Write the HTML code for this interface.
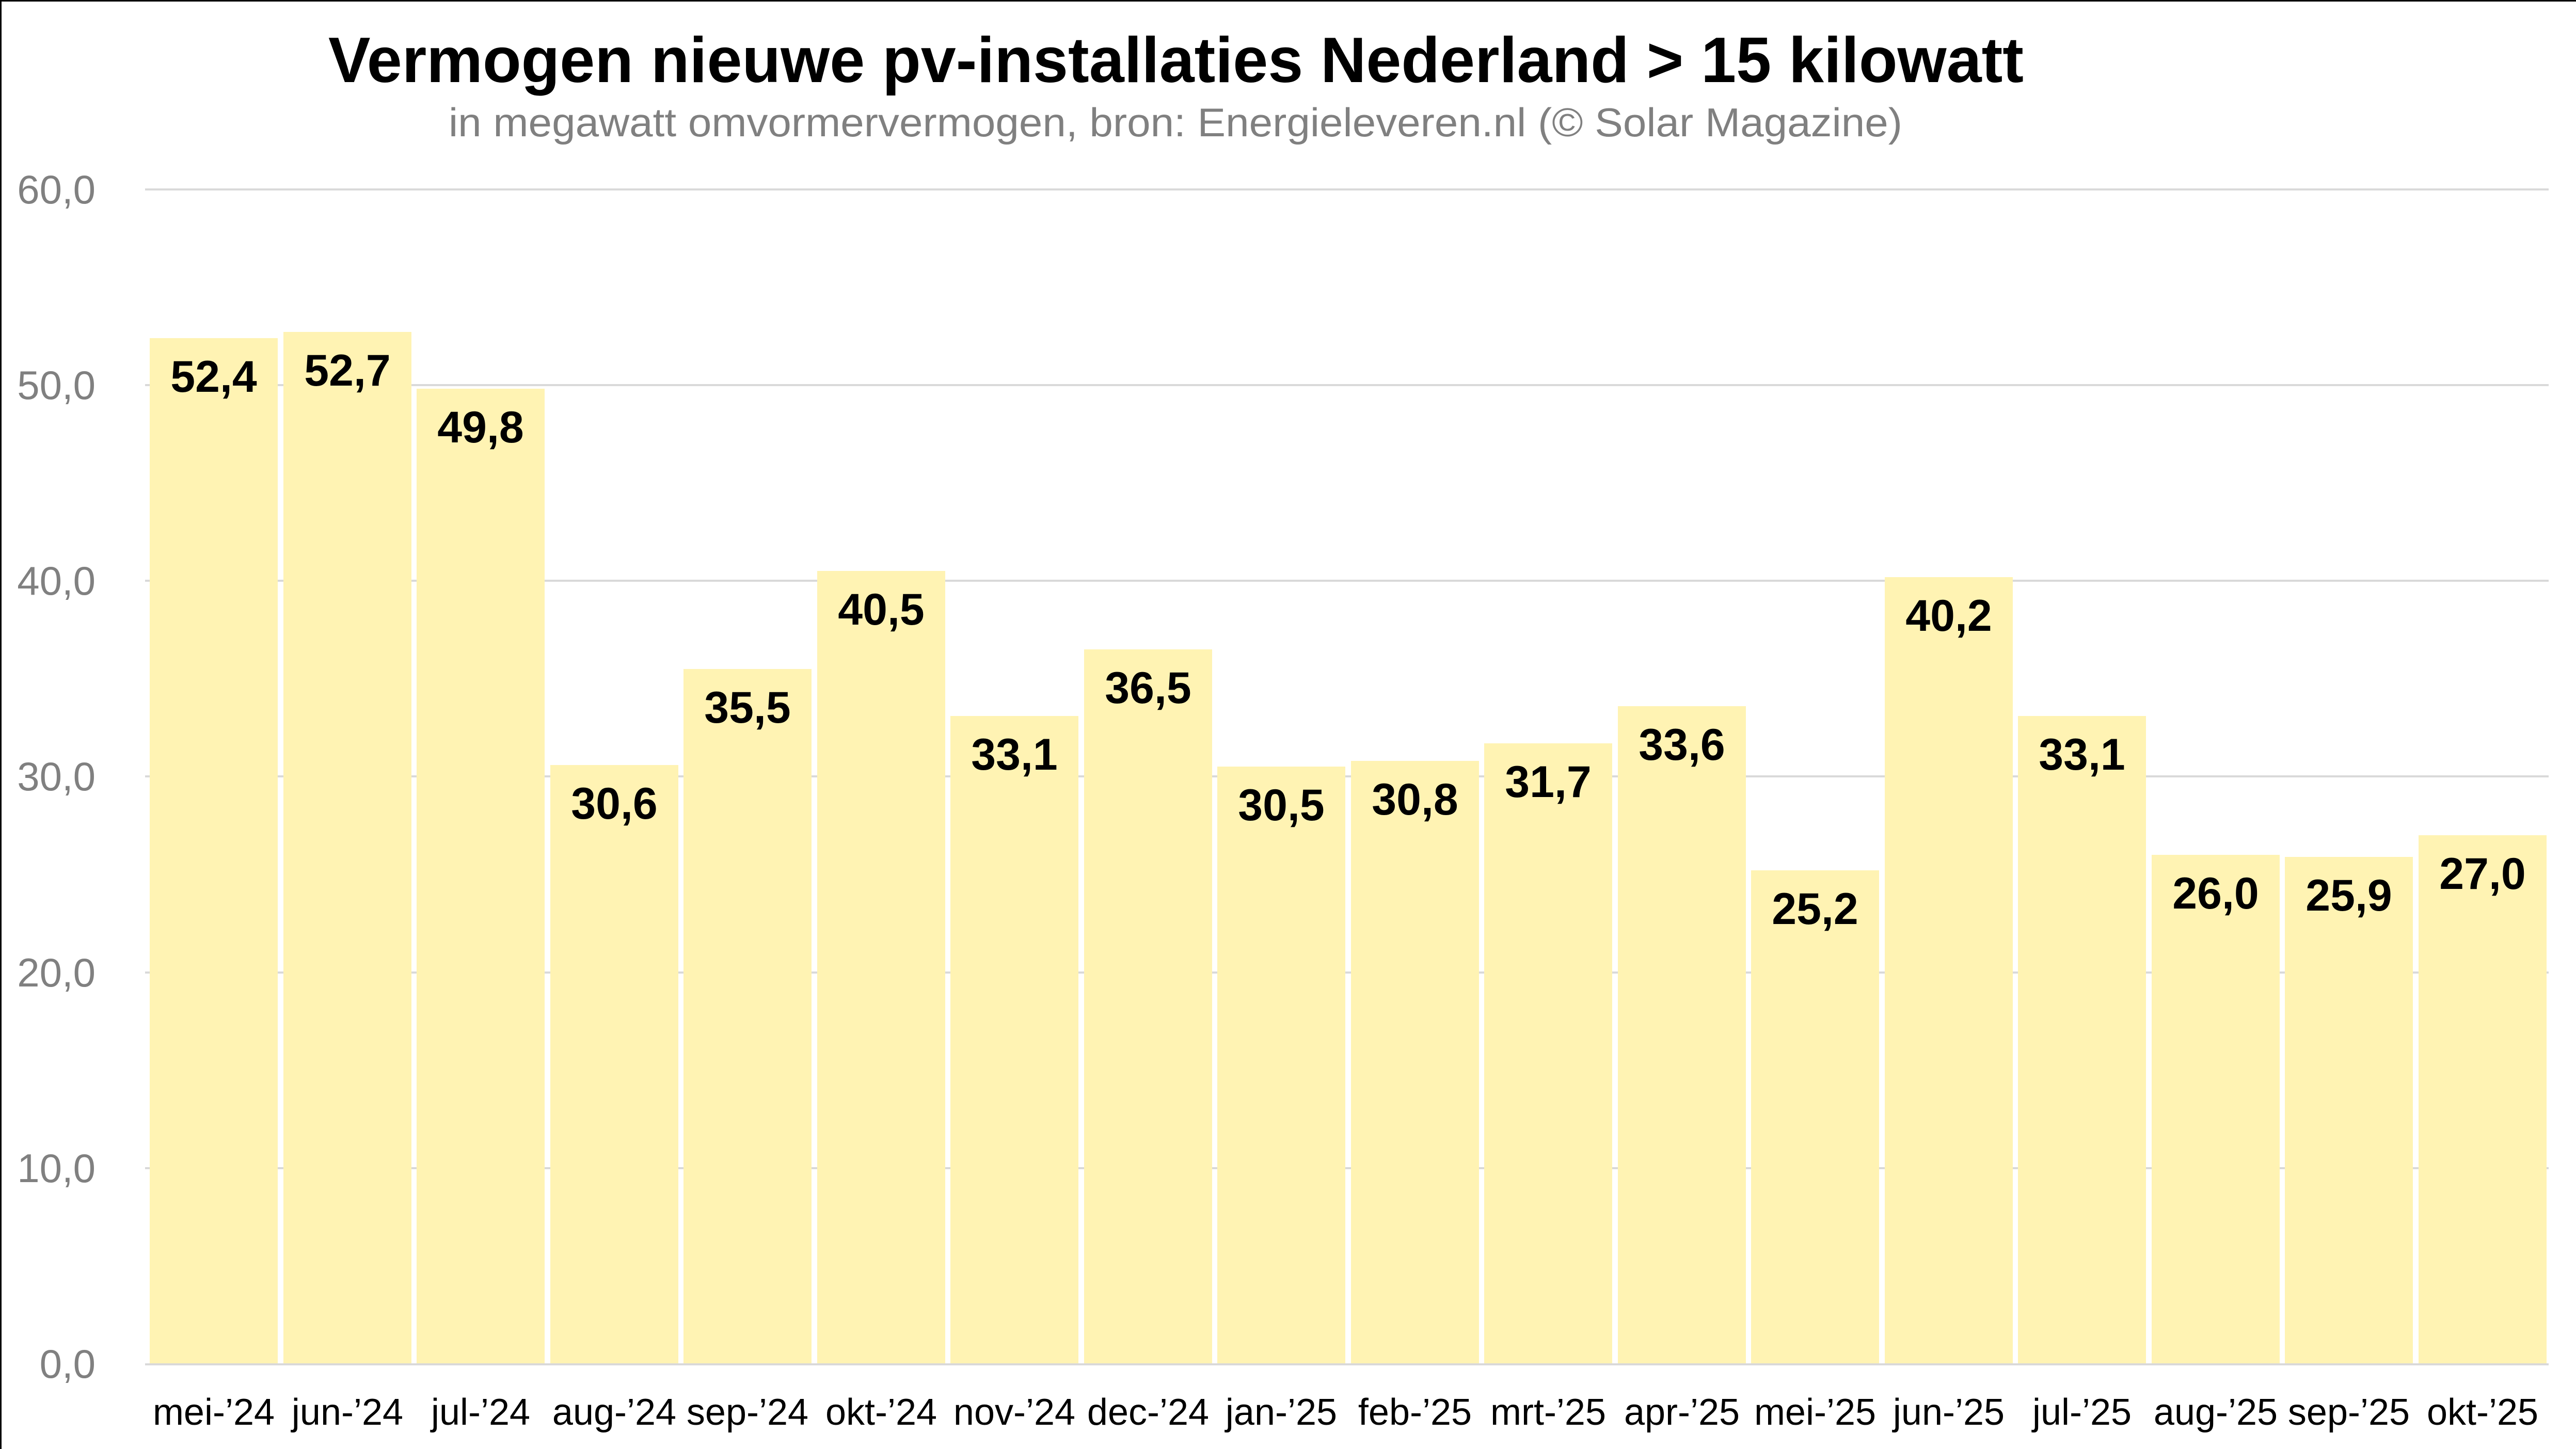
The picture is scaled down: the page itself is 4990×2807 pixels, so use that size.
<!DOCTYPE html>
<html><head><meta charset="utf-8"><style>
html,body{margin:0;padding:0;background:#fff}
svg{display:block}
</style></head><body>
<svg width="4990" height="2807" viewBox="0 0 4990 2807" xmlns="http://www.w3.org/2000/svg" font-family="Liberation Sans, sans-serif">
<rect x="0" y="0" width="4990" height="2807" fill="#fff"/>
<line x1="1.5" y1="0" x2="1.5" y2="2807" stroke="#000" stroke-width="3"/>
<line x1="0" y1="1.5" x2="4990" y2="1.5" stroke="#000" stroke-width="3"/>
<text x="636" y="159" font-size="124" font-weight="bold" fill="#000" textLength="3284" lengthAdjust="spacingAndGlyphs">Vermogen nieuwe pv-installaties Nederland &gt; 15 kilowatt</text>
<text x="869" y="264" font-size="78" fill="#808080" textLength="2816" lengthAdjust="spacingAndGlyphs">in megawatt omvormervermogen, bron: Energieleveren.nl (© Solar Magazine)</text>
<g stroke="#d9d9d9" stroke-width="4">
<line x1="281" y1="367" x2="4937" y2="367"/>
<line x1="281" y1="746" x2="4937" y2="746"/>
<line x1="281" y1="1125" x2="4937" y2="1125"/>
<line x1="281" y1="1504" x2="4937" y2="1504"/>
<line x1="281" y1="1884" x2="4937" y2="1884"/>
<line x1="281" y1="2263" x2="4937" y2="2263"/>
</g>
<g font-size="78" fill="#808080" text-anchor="end">
<text x="185" y="394">60,0</text>
<text x="185" y="773">50,0</text>
<text x="185" y="1152">40,0</text>
<text x="185" y="1531">30,0</text>
<text x="185" y="1911">20,0</text>
<text x="185" y="2290">10,0</text>
<text x="185" y="2669">0,0</text>
</g>
<g fill="#FFF3B3">
<rect x="290" y="655" width="248" height="1987"/>
<rect x="549" y="643" width="248" height="1999"/>
<rect x="807" y="753" width="248" height="1889"/>
<rect x="1066" y="1482" width="248" height="1160"/>
<rect x="1324" y="1296" width="248" height="1346"/>
<rect x="1583" y="1106" width="248" height="1536"/>
<rect x="1841" y="1387" width="248" height="1255"/>
<rect x="2100" y="1258" width="248" height="1384"/>
<rect x="2358" y="1485" width="248" height="1157"/>
<rect x="2617" y="1474" width="248" height="1168"/>
<rect x="2875" y="1440" width="248" height="1202"/>
<rect x="3134" y="1368" width="248" height="1274"/>
<rect x="3392" y="1686" width="248" height="956"/>
<rect x="3651" y="1118" width="248" height="1524"/>
<rect x="3909" y="1387" width="248" height="1255"/>
<rect x="4168" y="1656" width="248" height="986"/>
<rect x="4426" y="1660" width="248" height="982"/>
<rect x="4685" y="1618" width="248" height="1024"/>
</g>
<line x1="281" y1="2643" x2="4937" y2="2643" stroke="#d9d9d9" stroke-width="4"/>
<g font-size="86" font-weight="bold" fill="#000" text-anchor="middle">
<text x="414" y="759">52,4</text>
<text x="673" y="747">52,7</text>
<text x="931" y="857">49,8</text>
<text x="1190" y="1586">30,6</text>
<text x="1448" y="1400">35,5</text>
<text x="1707" y="1210">40,5</text>
<text x="1965" y="1491">33,1</text>
<text x="2224" y="1362">36,5</text>
<text x="2482" y="1589">30,5</text>
<text x="2741" y="1578">30,8</text>
<text x="2999" y="1544">31,7</text>
<text x="3258" y="1472">33,6</text>
<text x="3516" y="1790">25,2</text>
<text x="3775" y="1222">40,2</text>
<text x="4033" y="1491">33,1</text>
<text x="4292" y="1760">26,0</text>
<text x="4550" y="1764">25,9</text>
<text x="4809" y="1722">27,0</text>
</g>
<g font-size="72" fill="#000" text-anchor="middle">
<text x="414" y="2760">mei-’24</text>
<text x="673" y="2760">jun-’24</text>
<text x="931" y="2760">jul-’24</text>
<text x="1190" y="2760">aug-’24</text>
<text x="1448" y="2760">sep-’24</text>
<text x="1707" y="2760">okt-’24</text>
<text x="1965" y="2760">nov-’24</text>
<text x="2224" y="2760">dec-’24</text>
<text x="2482" y="2760">jan-’25</text>
<text x="2741" y="2760">feb-’25</text>
<text x="2999" y="2760">mrt-’25</text>
<text x="3258" y="2760">apr-’25</text>
<text x="3516" y="2760">mei-’25</text>
<text x="3775" y="2760">jun-’25</text>
<text x="4033" y="2760">jul-’25</text>
<text x="4292" y="2760">aug-’25</text>
<text x="4550" y="2760">sep-’25</text>
<text x="4809" y="2760">okt-’25</text>
</g>
</svg>
</body></html>
